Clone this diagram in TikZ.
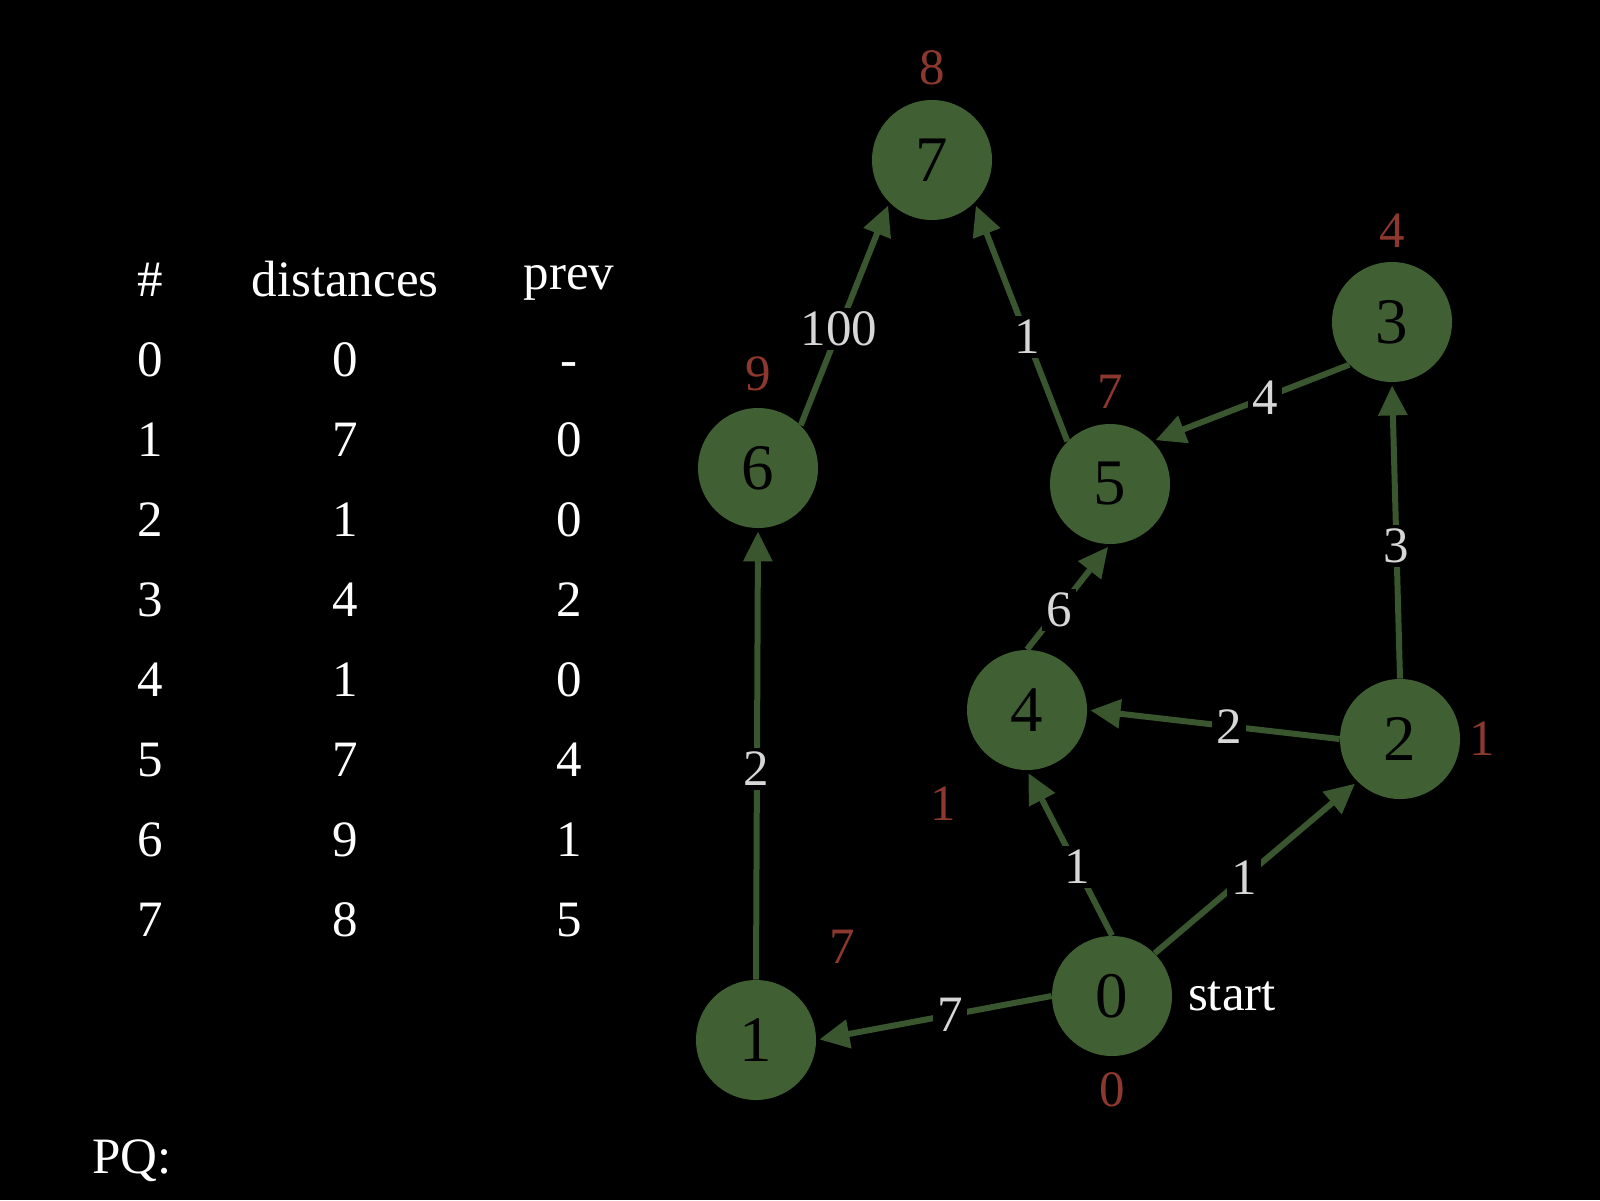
\documentclass[tikz,border=0pt]{standalone}
\usepackage{fontspec}
\setmainfont{Liberation Serif}
\usetikzlibrary{arrows.meta}
\definecolor{nodefill}{RGB}{64,96,52}
\definecolor{edgecol}{RGB}{58,86,46}
\definecolor{distred}{RGB}{140,56,46}
\definecolor{lbl}{RGB}{215,215,215}
\begin{document}
\begin{tikzpicture}[x=0.5pt,y=-0.5pt,
  vertex/.style={circle,fill=nodefill,minimum size=60pt,inner sep=0pt,text=black,font=\fontsize{32.5}{34}\selectfont},
  conn/.style={draw=edgecol,line width=3pt,shorten >=1.5pt,-{Triangle[length=15pt,width=14pt]}},
  elabel/.style={fill=black,text=lbl,inner sep=2pt,font=\fontsize{25.5}{27}\selectfont},
  dlabel/.style={text=distred,inner sep=0pt,font=\fontsize{25.5}{27}\selectfont},
  tabtext/.style={text=white,inner sep=0pt,font=\fontsize{25.5}{27}\selectfont}]
\fill[black] (0,0) rectangle (1600,1200);
\useasboundingbox (0,0) rectangle (1600,1200);
% vertices
\node[vertex] (n7) at (932,160) {7};
\node[vertex] (n3) at (1392,322) {3};
\node[vertex] (n6) at (758,468) {6};
\node[vertex] (n5) at (1110,484) {5};
\node[vertex] (n4) at (1027,710) {4};
\node[vertex] (n2) at (1400,739) {2};
\node[vertex] (n0) at (1112,996) {0};
\node[vertex] (n1) at (756,1040) {1};
% edges
\draw[conn] (n0.west) -- (n1.east);
\draw[conn] (n0.north) -- (n4.south);
\draw[conn] (n0.north east) -- (n2.south west);
\draw[conn] (n2.west) -- (n4.east);
\draw[conn] (n2.north) -- (n3.south);
\draw[conn] (n3.south west) -- (n5.north east);
\draw[conn] (n4.north) -- (n5.south);
\draw[conn] (n1.north) -- (n6.south);
\draw[conn] (n6.north east) -- (n7.south west);
\draw[conn] (n5.north west) -- (n7.south east);
% edge labels
\node[elabel] (w67) at (839,329) {100};
\node[elabel] (w57) at (1027,337) {1};
\node[elabel] (w35) at (1265,398) {4};
\node[elabel] (w23) at (1396,546) {3};
\node[elabel] (w45) at (1059,610) {6};
\node[elabel] (w24) at (1229,727) {2};
\node[elabel] (w16) at (756,769) {2};
\node[elabel] (w04) at (1077,867) {1};
\node[elabel] (w02) at (1244,878) {1};
\node[elabel] (w01) at (950,1015) {7};
% distance labels
\node[dlabel] (d7) at (932,68) {8};
\node[dlabel] (d3) at (1392,231) {4};
\node[dlabel] (d6) at (758,374) {9};
\node[dlabel] (d5) at (1110,392) {7};
\node[dlabel] (d4) at (943,804) {1};
\node[dlabel] (d2) at (1482,739) {1};
\node[dlabel] (d1) at (842,947) {7};
\node[dlabel] (d0) at (1112,1090) {0};
\node[tabtext] (start) at (1232,996) {start};
% table
\node[tabtext,anchor=base] (hnum) at (150,296) {\#};
\node[tabtext,anchor=base] (hdist) at (345,296) {distances};
\node[tabtext,anchor=base] (hprev) at (569,289) {prev};
\foreach \i/\d/\p [count=\k from 0] in {0/0/-,1/7/0,2/1/0,3/4/2,4/1/0,5/7/4,6/9/1,7/8/5}{
  \pgfmathsetmacro{\yy}{359+80.1*\k+17}
  \node[tabtext,anchor=base] (r\k a) at (150,\yy) {\i};
  \node[tabtext,anchor=base] (r\k b) at (345,\yy) {\d};
  \node[tabtext,anchor=base] (r\k c) at (569,\yy) {\p};
}
\node[tabtext,anchor=west] (pq) at (92,1161) {PQ:};
\end{tikzpicture}
\end{document}
